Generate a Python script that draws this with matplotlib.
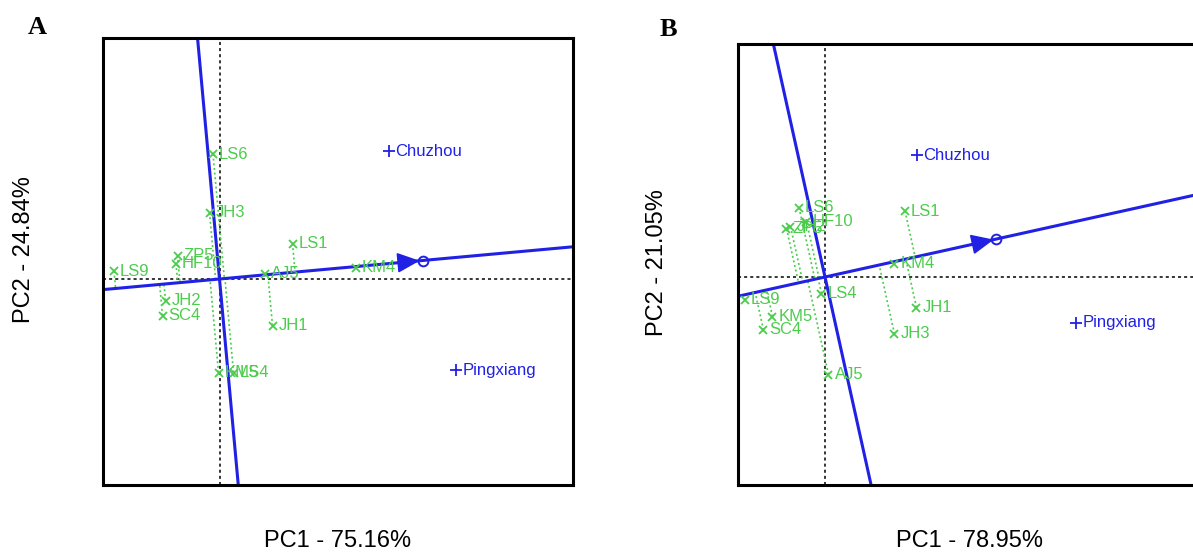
import numpy as np
import matplotlib.pyplot as plt

plt.rcParams['font.family'] = ['Liberation Sans', 'DejaVu Sans']

GREEN = '#4ccc4c'
BLUE = '#2121e6'

# Genotype scores (same order for both panels)
genotypes = ['LS6', 'JH3', 'LS1', 'ZP5', 'HF10', 'LS9', 'AJ5', 'KM4', 'JH2', 'SC4', 'JH1', 'KM5', 'LS4']
environments = ['Chuzhou', 'Pingxiang']

# Panel A
pc1_a = [-0.13, -0.20, 1.46, -0.84, -0.87, -2.11, 0.91, 2.73, -1.08, -1.14, 1.06, -0.02, 0.28]
pc2_a = [2.50, 1.33, 0.71, 0.47, 0.31, 0.16, 0.11, 0.23, -0.43, -0.73, -0.93, -1.87, -1.87]
env_pc1_a = [3.39, 4.73]
env_pc2_a = [2.56, -1.82]

# Panel B
pc1_b = [-0.52, 1.39, 1.60, -0.77, -0.37, -1.60, 0.07, 1.39, -0.69, -1.23, 1.83, -1.05, -0.07]
pc2_b = [1.39, -1.14, 1.32, 0.97, 1.11, -0.46, -1.95, 0.27, 1.01, -1.06, -0.61, -0.79, -0.33]
env_pc1_b = [1.84, 5.02]
env_pc2_b = [2.44, -0.92]

W, H = 1193, 552
fig = plt.figure(figsize=(W / 100, H / 100), dpi=100)


def draw_panel(rect, xlim, ylim, gx, gy, ex, ey):
    ax = fig.add_axes(rect)
    ax.set_xlim(xlim)
    ax.set_ylim(ylim)
    ax.set_xticks([])
    ax.set_yticks([])
    for s in ax.spines.values():
        s.set_linewidth(2.2)
        s.set_zorder(10)

    # origin reference lines
    ax.axhline(0, color='black', lw=1.1, ls=(0, (2, 2)), zorder=1)
    ax.axvline(0, color='black', lw=1.1, ls=(0, (2, 2)), zorder=1)

    # average environment axis and its perpendicular
    m = np.array([np.mean(ex), np.mean(ey)])
    u = m / np.linalg.norm(m)
    ax.axline((0, 0), (u[0], u[1]), color=BLUE, lw=2.2, zorder=3)
    ax.axline((0, 0), (-u[1], u[0]), color=BLUE, lw=2.2, zorder=3)

    # arrow head and mean environment circle
    tip = m - 0.09 * u
    base = tip - 0.40 * u
    perp = np.array([-u[1], u[0]])
    tri = np.array([tip, base + 0.18 * perp, base - 0.18 * perp])
    ax.fill(tri[:, 0], tri[:, 1], color=BLUE, zorder=4)
    ax.plot(m[0], m[1], 'o', mfc='none', mec=BLUE, ms=7, mew=1.4, zorder=4)

    # genotypes with projections onto the axis
    for name, x, y in zip(genotypes, gx, gy):
        d = x * u[0] + y * u[1]
        ax.plot([x, d * u[0]], [y, d * u[1]], color=GREEN, lw=1.2, ls=(0, (1.2, 1.6)), zorder=2)
        ax.plot(x, y, 'x', color=GREEN, ms=6, mew=1.3, zorder=5)
        ax.text(x + 0.12, y, name, color=GREEN, fontsize=12, va='center', ha='left', zorder=5)

    # environments
    for name, x, y in zip(environments, ex, ey):
        ax.plot(x, y, '+', color=BLUE, ms=9, mew=1.3, zorder=5)
        ax.text(x + 0.13, y, name, color=BLUE, fontsize=12, va='center', ha='left', zorder=5)
    return ax


draw_panel([103 / W, 1 - 485 / H, 470 / W, 447 / H], (-2.33, 7.07), (-4.12, 4.82),
           pc1_a, pc2_a, env_pc1_a, env_pc2_a)
draw_panel([738 / W, 1 - 485 / H, 464 / W, 441 / H], (-1.74, 7.54), (-4.16, 4.66),
           pc1_b, pc2_b, env_pc1_b, env_pc2_b)

# axis titles
fig.text(338 / W, 1 - 541 / H, 'PC1 - 75.16%', fontsize=17, ha='center', va='center')
fig.text(24 / W, 1 - 250 / H, 'PC2 - 24.84%', fontsize=17, ha='center', va='center', rotation=90)
fig.text(970 / W, 1 - 541 / H, 'PC1 - 78.95%', fontsize=17, ha='center', va='center')
fig.text(657 / W, 1 - 263 / H, 'PC2 - 21.05%', fontsize=17, ha='center', va='center', rotation=90)

# panel letters
fig.text(37 / W, 1 - 27 / H, 'A', fontsize=19, fontweight='bold', family='Liberation Serif',
         ha='center', va='center')
fig.text(668 / W, 1 - 29 / H, 'B', fontsize=19, fontweight='bold', family='Liberation Serif',
         ha='center', va='center')

fig.savefig('out.png', dpi=100)
